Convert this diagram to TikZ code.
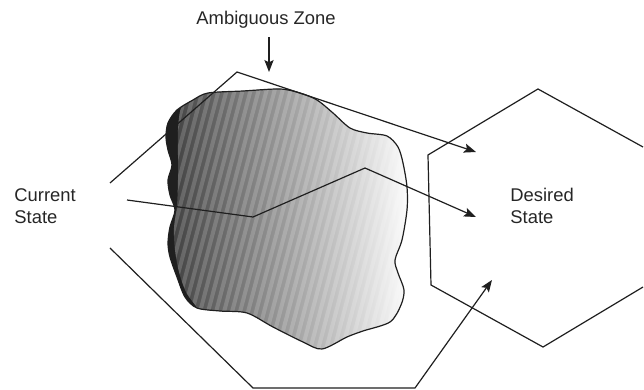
\documentclass[tikz,border=0pt]{standalone}
\usepackage{fontspec}
\setmainfont{Liberation Sans}
\usetikzlibrary{arrows.meta}

\tikzset{
  edge/.style={line width=0.6pt, draw=black!88},
  pointer/.style={edge, -{Stealth[length=6pt, width=4.6pt, inset=1.2pt]}},
  statetext/.style={font=\fontsize{9.2}{11}\selectfont, inner sep=0pt, align=left, text=black!85},
}

\newcommand{\blobline}{plot[smooth cycle, tension=0.5] coordinates {
  (208,93) (243,91) (280,89) (300,93) (317,100) (333,113) (350,128) (367,133)
  (387,136) (398,147) (403,163) (407,187) (407,210) (402,240) (395,260) (398,273)
  (404,290) (401,305) (390,322) (363,331) (347,337) (322,349) (303,342) (273,327)
  (247,313) (220,311) (197,308) (185,297) (177,277) (170,257) (168,243) (170,227)
  (175,210) (170,195) (168,180) (172,165) (168,150) (166,137) (168,123) (177,110)
  (193,100)}}

\begin{document}
\begin{tikzpicture}[x=0.5pt, y=-0.5pt]
    \useasboundingbox (0,0) rectangle (644,390);

    % Ambiguous zone (shaded blob)
    \begin{scope}
        \clip \blobline;
        \fill[black!88] (150,80) rectangle (420,360);
        \begin{scope}
            \clip plot[smooth, tension=0.5] coordinates {(192,95) (181,108) (178,130) (178,155)
              (178,180) (177,205) (174,228) (175,250) (179,272) (186,292) (196,306)}
              -- (200,365) -- (430,365) -- (430,70) -- (200,70) -- cycle;
            \shade[left color=black!74, right color=white] (172,70) rectangle (412,365);
            \foreach \s in {90,98,...,420} {
                \draw[white, opacity=0.17, line width=2pt] (\s,365) -- (\s+78,70);
            }
        \end{scope}
    \end{scope}
    \draw[edge] \blobline;

    % Desired state (hexagon, cut by the right border)
    \draw[edge] (643,147) -- (538,89) -- (428,155) -- (431,285) -- (543,347) -- (643,287);

    % Labels
    \node[statetext, anchor=base] (zone) at (266,25) {Ambiguous Zone};
    \node[statetext, anchor=north west] (current) at (14,188) {Current\\State};
    \node[statetext, anchor=north west] (desired) at (510,188) {Desired\\State};

    % Paths
    \coordinate (zone-tip) at (269,72);
    \coordinate (top-start) at (110,183);
    \coordinate (top-bend) at (237,72);
    \coordinate (top-end) at (476,152);
    \coordinate (mid-start) at (127,200);
    \coordinate (mid-bend1) at (253,217);
    \coordinate (mid-bend2) at (365,168);
    \coordinate (mid-end) at (476,217);
    \coordinate (low-start) at (110,248);
    \coordinate (low-bend1) at (253,388);
    \coordinate (low-bend2) at (415,388);
    \coordinate (low-end) at (492,280);

    \draw[pointer, shorten <=4pt] (zone.south -| zone-tip) -- (zone-tip);
    \draw[pointer] (top-start) -- (top-bend) -- (top-end);
    \draw[pointer] (mid-start) -- (mid-bend1) -- (mid-bend2) -- (mid-end);
    \draw[pointer] (low-start) -- (low-bend1) -- (low-bend2) -- (low-end);
\end{tikzpicture}
\end{document}
